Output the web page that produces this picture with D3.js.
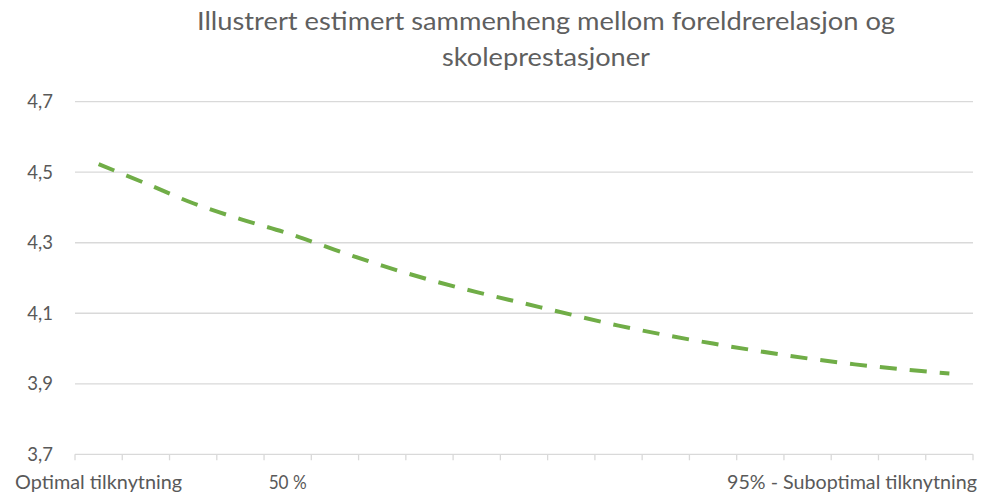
<!DOCTYPE html>
<html>
<head>
<meta charset="utf-8">
<script src="https://cdn.jsdelivr.net/npm/d3@7"></script>
<style>
  html, body { margin: 0; padding: 0; background: #fff; }
  svg { display: block; }
  text { font-family: Lato, "Open Sans", "Liberation Sans", sans-serif; fill: #595959; }
</style>
</head>
<body>
<svg id="chart" width="981" height="495"></svg>
<script>
// ---- data ----
const titleLines = ["Illustrert estimert sammenheng mellom foreldrerelasjon og", "skoleprestasjoner"];
const categories = ["Optimal tilknytning", "", "", "", "50 %", "", "", "", "", "", "", "", "", "", "", "", "", "", "95% - Suboptimal tilknytning"];
const values = [4.523, 4.468, 4.412, 4.367, 4.327, 4.280, 4.235, 4.195, 4.160, 4.128, 4.096, 4.065, 4.038, 4.014, 3.992, 3.972, 3.955, 3.941, 3.929];
const yTicks = [3.7, 3.9, 4.1, 4.3, 4.5, 4.7];

// ---- layout ----
const W = 981, H = 495;
const plotLeft = 75, plotRight = 973, plotTop = 101.7, plotBottom = 454.3;
const svg = d3.select("#chart");

const x = d3.scaleBand().domain(d3.range(categories.length)).range([plotLeft, plotRight]).paddingInner(0).paddingOuter(0);
const y = d3.scaleLinear().domain([3.7, 4.7]).range([plotBottom, plotTop]);
const fmt = d3.formatLocale({decimal: ",", thousands: " ", grouping: [3], currency: ["", " kr"]}).format(".1f");

// title
const titleWidths = [698, 208];
const title = svg.append("g");
titleLines.forEach((t, i) => {
  title.append("text")
    .attr("x", 546).attr("y", 30 + i * 36)
    .attr("text-anchor", "middle")
    .style("font-size", "25px")
    .style("font-weight", 400)
    .style("fill", "#5f5f5f")
    .attr("textLength", titleWidths[i]).attr("lengthAdjust", "spacingAndGlyphs")
    .text(t);
});

// gridlines
svg.append("g").selectAll("line").data(yTicks.filter(v => v > 3.7)).join("line")
  .attr("x1", plotLeft).attr("x2", plotRight)
  .attr("y1", d => y(d)).attr("y2", d => y(d))
  .attr("stroke", "#d9d9d9").attr("stroke-width", 1.3);

// y labels
svg.append("g").selectAll("text").data(yTicks).join("text")
  .attr("x", 53).attr("y", d => y(d)).attr("dy", "0.35em")
  .attr("text-anchor", "end")
  .style("font-size", "18.5px")
  .text(d => fmt(d));

// x axis line and ticks
const axisG = svg.append("g");
axisG.append("line")
  .attr("x1", plotLeft).attr("x2", plotRight).attr("y1", plotBottom).attr("y2", plotBottom)
  .attr("stroke", "#d9d9d9").attr("stroke-width", 1.3);
const tickPos = d3.range(categories.length).map(i => x(i)).concat([x(categories.length - 1) + x.bandwidth()]);
axisG.selectAll("line.tick").data(tickPos).join("line")
  .attr("class", "tick")
  .attr("x1", d => d).attr("x2", d => d)
  .attr("y1", plotBottom).attr("y2", plotBottom + 6)
  .attr("stroke", "#d9d9d9").attr("stroke-width", 1.3);

// x labels
const labelWidths = {0: 167, 4: 38, 18: 250};
const xl = svg.append("g").selectAll("text").data(categories.map((c, i) => ({c, i})).filter(d => d.c)).join("text")
  .attr("x", d => x(d.i) + x.bandwidth() / 2)
  .attr("y", 489)
  .attr("text-anchor", "middle")
  .style("font-size", "19px")
  .attr("textLength", d => labelWidths[d.i]).attr("lengthAdjust", "spacingAndGlyphs")
  .text(d => d.c);
xl.each(function(d) {
  const len = labelWidths[d.i];
  const cx = x(d.i) + x.bandwidth() / 2;
  if (cx + len / 2 > W - 3) {
    d3.select(this).attr("text-anchor", "end").attr("x", W - 4);
  }
});

// line
const line = d3.line()
  .x((d, i) => x(i) + x.bandwidth() / 2)
  .y(d => y(d))
  .curve(d3.curveCatmullRom.alpha(0.5));
svg.append("path")
  .datum(values)
  .attr("d", line)
  .attr("fill", "none")
  .attr("stroke", "#70AD47")
  .attr("stroke-width", 4)
  .attr("stroke-dasharray", "17,13");
</script>
</body>
</html>
